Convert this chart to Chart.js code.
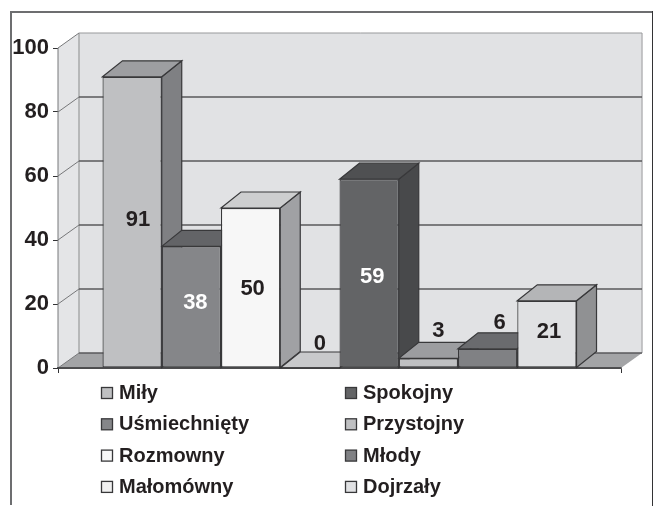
<!DOCTYPE html>
<html>
<head>
<meta charset="utf-8">
<style>
  html, body { margin: 0; padding: 0; background: #fff; }
  canvas { display: block; }
</style>
<script src="https://cdn.jsdelivr.net/npm/chart.js@4/dist/chart.umd.min.js"></script>
</head>
<body>
<canvas id="chart" width="654" height="506"></canvas>
<script>
"use strict";
var traits = ['Miły', 'Uśmiechnięty', 'Rozmowny', 'Małomówny', 'Spokojny', 'Przystojny', 'Młody', 'Dojrzały'];
var traitValues = [91, 38, 50, 0, 59, 3, 6, 21];
var axisMax = 100;
var axisStep = 20;

var frontColors = ['#bfc0c2', '#858689', '#f7f7f7', '#f0f0f0', '#636466', '#bfc0c2', '#808184', '#e0e1e3'];
var topColors = ['#9d9ea1', '#636467', '#cdcecf', '#c8c9cb', '#4f5052', '#9c9da0', '#6a6b6e', '#b4b5b7'];
var sideColors = ['#7f8083', '#5a5b5e', '#a0a1a4', '#a0a1a4', '#48494b', '#7f8083', '#5f6063', '#909193'];
var labelColors = ['#231f20', '#ffffff', '#231f20', '#231f20', '#ffffff', '#231f20', '#231f20', '#231f20'];
// nudges from the bar centre, the old 3D renderer did not centre them exactly
var labelNudge = [[6, -2], [4, -4], [2, 1], [10, -24], [3, 4], [10, -32], [12, -35], [2, -2]];

var inkColor = '#231f20';
var edgeColor = '#38383a';
var wallDepth = {x: 21, y: 15};
var barDepth = {x: 20, y: 16};
var fontFamily = '"Liberation Sans", Arial, sans-serif';

function poly(ctx, pts, fill, stroke, width) {
    ctx.beginPath();
    pts.forEach((p, i) => { i ? ctx.lineTo(p[0], p[1]) : ctx.moveTo(p[0], p[1]); });
    ctx.closePath();
    if (fill) { ctx.fillStyle = fill; ctx.fill(); }
    if (stroke) { ctx.strokeStyle = stroke; ctx.lineWidth = width || 1; ctx.stroke(); }
}

function line(ctx, x1, y1, x2, y2, color, width) {
    ctx.beginPath();
    ctx.moveTo(x1, y1);
    ctx.lineTo(x2, y2);
    ctx.strokeStyle = color;
    ctx.lineWidth = width;
    ctx.stroke();
}

var framePlugin = {
    id: 'frame',
    beforeDraw: (chart) => {
        var ctx = chart.ctx;
        line(ctx, 11, 12, 11, 505, '#6d6e70', 2);
        line(ctx, 10, 12, 652, 12, '#6d6e70', 2);
        line(ctx, 652.5, 11, 652.5, 506, '#333335', 1);
    }
};

var wallsPlugin = {
    id: 'walls',
    beforeDatasetsDraw: (chart) => {
        var ctx = chart.ctx, a = chart.chartArea, yScale = chart.scales.y;
        var dx = wallDepth.x, dy = wallDepth.y;
        // left wall, back wall, floor
        poly(ctx, [[a.left, a.top], [a.left + dx, a.top - dy], [a.left + dx, a.bottom - dy], [a.left, a.bottom]], '#e4e5e7');
        ctx.fillStyle = '#e1e2e4';
        ctx.fillRect(a.left + dx, a.top - dy, a.right - a.left, a.bottom - a.top);
        line(ctx, a.left + dx, a.top - dy, a.left + dx, a.bottom - dy, '#a7a8aa', 1.5);
        line(ctx, a.right + dx, a.top - dy, a.right + dx, a.bottom - dy, '#b4b5b7', 1.5);
        line(ctx, a.left, a.top, a.left, a.bottom, '#77787a', 1);
        poly(ctx, [[a.left, a.bottom], [a.left + dx, a.bottom - dy], [a.right + dx, a.bottom - dy], [a.right, a.bottom]], '#a3a4a6');

        yScale.ticks.forEach((t) => {
            var y = yScale.getPixelForValue(t.value);
            var isTop = t.value === axisMax;
            line(ctx, a.left, y, a.left + dx, y - dy, '#77787a', 1);
            line(ctx, a.left + dx, y - dy, a.right + dx, y - dy, isTop ? '#98999b' : '#58595b', isTop ? 1 : 1.5);
        });

        // top and side of every bar, left to right so nearer faces cover farther ones
        chart.data.datasets.forEach((ds, i) => {
            var bar = chart.getDatasetMeta(i).data[0];
            var l = bar.x - bar.width / 2, r = bar.x + bar.width / 2;
            var t = bar.y, b = bar.base;
            var ox = barDepth.x, oy = barDepth.y;
            poly(ctx, [[r, t], [r + ox, t - oy], [r + ox, b - oy], [r, b]], sideColors[i], edgeColor, 1.2);
            poly(ctx, [[l, t], [l + ox, t - oy], [r + ox, t - oy], [r, t]], topColors[i], edgeColor, 1.2);
        });
    }
};

var valueLabelsPlugin = {
    id: 'valueLabels',
    afterDatasetsDraw: (chart) => {
        var ctx = chart.ctx, a = chart.chartArea;
        // baseline runs over the feet of the bars
        line(ctx, a.left, a.bottom, a.right, a.bottom, '#333335', 1.5);
        ctx.font = 'bold 22px ' + fontFamily;
        ctx.textAlign = 'center';
        ctx.textBaseline = 'middle';
        traitValues.forEach((v, i) => {
            var bar = chart.getDatasetMeta(i).data[0];
            ctx.fillStyle = labelColors[i];
            ctx.fillText(String(v), bar.x + labelNudge[i][0], (bar.y + bar.base) / 2 + labelNudge[i][1]);
        });
    }
};

// two columns, read top to bottom: the built in legend only fills rows
var legendPlugin = {
    id: 'columnLegend',
    afterDraw: (chart) => {
        var ctx = chart.ctx;
        var perColumn = 4, columnX = [101, 345], firstY = 393, rowGap = 31.3, box = 12;
        ctx.font = 'bold 20px ' + fontFamily;
        ctx.textAlign = 'left';
        ctx.textBaseline = 'middle';
        traits.forEach((name, i) => {
            var x = columnX[Math.floor(i / perColumn)];
            var y = firstY + (i % perColumn) * rowGap;
            ctx.fillStyle = frontColors[i];
            ctx.fillRect(x + 0.5, y - box / 2 + 0.5, box - 1, box - 1);
            ctx.strokeStyle = edgeColor;
            ctx.lineWidth = 1.3;
            ctx.strokeRect(x + 0.5, y - box / 2 + 0.5, box - 1, box - 1);
            ctx.fillStyle = inkColor;
            ctx.fillText(name, x + 18, y + 0.5);
        });
    }
};

new Chart(document.getElementById('chart'), {
    type: 'bar',
    plugins: [framePlugin, wallsPlugin, valueLabelsPlugin, legendPlugin],
    data: {
        labels: [''],
        datasets: traits.map((name, i) => ({
            label: name,
            data: [traitValues[i]],
            backgroundColor: frontColors[i],
            borderColor: edgeColor,
            borderWidth: 1.2,
            borderSkipped: false,
            minBarLength: 0
        }))
    },
    options: {
        responsive: false,
        animation: false,
        categoryPercentage: 0.842,
        barPercentage: 1,
        layout: {padding: {top: 48, right: 33, left: 0, bottom: 0}},
        plugins: {legend: {display: false}, tooltip: {enabled: false}},
        scales: {
            x: {
                afterFit: (scale) => { scale.height = 138; },
                ticks: {display: false},
                grid: {drawOnChartArea: false, tickLength: 5, color: '#333335'},
                border: {color: '#333335', width: 1.5}
            },
            y: {
                min: 0,
                max: axisMax,
                afterFit: (scale) => { scale.width = 58; },
                ticks: {
                    stepSize: axisStep,
                    color: inkColor,
                    padding: 4,
                    font: {family: fontFamily, size: 22, weight: 'bold'}
                },
                grid: {drawOnChartArea: false, tickLength: 5, color: '#333335'},
                border: {color: '#77787a', width: 1}
            }
        }
    }
});
</script>
</body>
</html>
